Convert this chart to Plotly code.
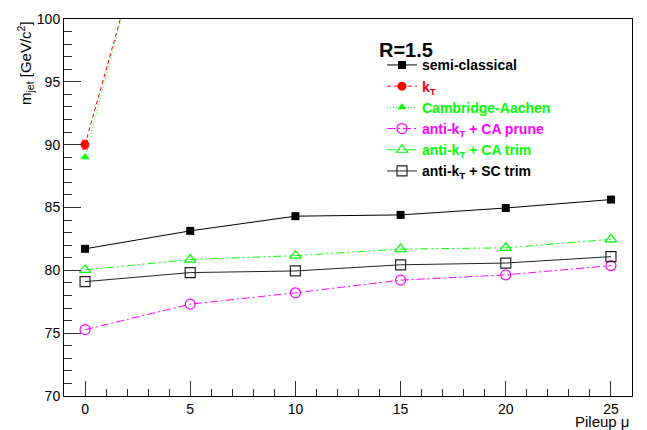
import plotly.graph_objects as go

pileup = [0, 5, 10, 15, 20, 25]

semi_classical = [81.71, 83.14, 84.31, 84.41, 84.96, 85.63]
kt = [90.0, 119.8, 135.0, 145.0, 152.0, 158.0]
kt_err = [0.35, 0.35, 0.35, 0.35, 0.35, 0.35]
cambridge_aachen = [89.0, 121.2, 136.0, 146.0, 153.0, 159.0]
akt_ca_prune = [75.28, 77.31, 78.21, 79.22, 79.64, 80.37]
akt_ca_trim = [80.03, 80.86, 81.17, 81.69, 81.79, 82.47]
akt_sc_trim = [79.10, 79.82, 79.95, 80.44, 80.58, 81.09]

BLACK = "#000000"
RED = "#ff0000"
GREEN = "#00ff00"
MAGENTA = "#ff00ff"

def lab(txt, color):
    return '<b><span style="color:%s">%s</span></b>' % (color, txt)

fig = go.Figure()

fig.add_trace(go.Scatter(
    x=pileup, y=semi_classical, mode="lines+markers",
    name=lab("semi-classical", BLACK),
    line=dict(color=BLACK, width=1, dash="solid"),
    marker=dict(symbol="square", size=8, color=BLACK),
    cliponaxis=True))

fig.add_trace(go.Scatter(
    x=pileup, y=kt, mode="lines+markers",
    name=lab("k<sub>T</sub>", RED),
    line=dict(color=RED, width=1, dash="4px,3px"),
    marker=dict(symbol="circle", size=9, color=RED),
    error_y=dict(type="data", array=kt_err, color=RED, width=3, thickness=1),
    cliponaxis=True))

fig.add_trace(go.Scatter(
    x=pileup, y=cambridge_aachen, mode="lines+markers",
    name=lab("Cambridge-Aachen", GREEN),
    line=dict(color=GREEN, width=1, dash="1px,2px"),
    marker=dict(symbol="triangle-up", size=8, color=GREEN),
    cliponaxis=True))

fig.add_trace(go.Scatter(
    x=pileup, y=akt_ca_prune, mode="lines+markers",
    name=lab("anti-k<sub>T</sub> + CA prune", MAGENTA),
    line=dict(color=MAGENTA, width=1, dash="8px,3px,2px,3px"),
    marker=dict(symbol="circle-open", size=10, color=MAGENTA, line=dict(width=1.2)),
    cliponaxis=True))

fig.add_trace(go.Scatter(
    x=pileup, y=akt_ca_trim, mode="lines+markers",
    name=lab("anti-k<sub>T</sub> + CA trim", GREEN),
    line=dict(color=GREEN, width=1, dash="8px,3px,2px,3px,2px,3px"),
    marker=dict(symbol="triangle-up-open", size=10, color=GREEN, line=dict(width=1.2)),
    cliponaxis=True))

fig.add_trace(go.Scatter(
    x=pileup, y=akt_sc_trim, mode="lines+markers",
    name=lab("anti-k<sub>T</sub> + SC trim", BLACK),
    line=dict(color="#222222", width=1, dash="solid"),
    marker=dict(symbol="square-open", size=10, color="#222222", line=dict(width=1.2)),
    cliponaxis=True))

axis_common = dict(
    showgrid=False, zeroline=False, showline=True, linecolor="#000000", linewidth=1,
    mirror=True, ticks="inside", tickcolor="#333333", tickwidth=1,
    tickfont=dict(family="Liberation Sans, Arial, sans-serif", size=14, color="#000000"),
)

fig.update_layout(
    width=647, height=430,
    margin=dict(l=64, r=15, t=11, b=34),
    paper_bgcolor="white", plot_bgcolor="white",
    font=dict(family="Liberation Sans, Arial, sans-serif", size=14, color="#000000"),
    xaxis=dict(range=[-1, 26], tickvals=[0, 5, 10, 15, 20, 25], ticklen=15,
               minor=dict(dtick=1, tick0=0, ticks="inside", ticklen=7, tickcolor="#333333"),
               **axis_common),
    yaxis=dict(range=[70, 100], tickvals=[70, 75, 80, 85, 90, 95, 100], ticklen=17,
               minor=dict(dtick=1, tick0=70, ticks="inside", ticklen=8, tickcolor="#333333"),
               **axis_common),
    legend=dict(x=(382 - 64) / 568, y=(396 - 42) / 385, xanchor="left", yanchor="top",
                bgcolor="rgba(0,0,0,0)", borderwidth=0,
                font=dict(family="Liberation Sans, Arial, sans-serif", size=14),
                itemwidth=30, tracegroupgap=0),
    showlegend=True,
)

fig.add_annotation(text="<b>R=1.5</b>", xref="paper", yref="paper",
                   x=(377 - 64) / 568, y=(396 - 43) / 385, xanchor="left", yanchor="middle",
                   showarrow=False, font=dict(size=20))
fig.add_annotation(text="Pileup \u03bc", xref="paper", yref="paper",
                   x=1, y=0, xanchor="right", yanchor="middle", yshift=-25,
                   showarrow=False, font=dict(size=15))
fig.add_annotation(text="m<sub>jet</sub> [GeV/c<sup>2</sup>]", xref="paper", yref="paper",
                   x=(25 - 64) / 568, y=1, xanchor="center", yanchor="top",
                   textangle=-90, showarrow=False, font=dict(size=15))

fig.write_html("out.html")
